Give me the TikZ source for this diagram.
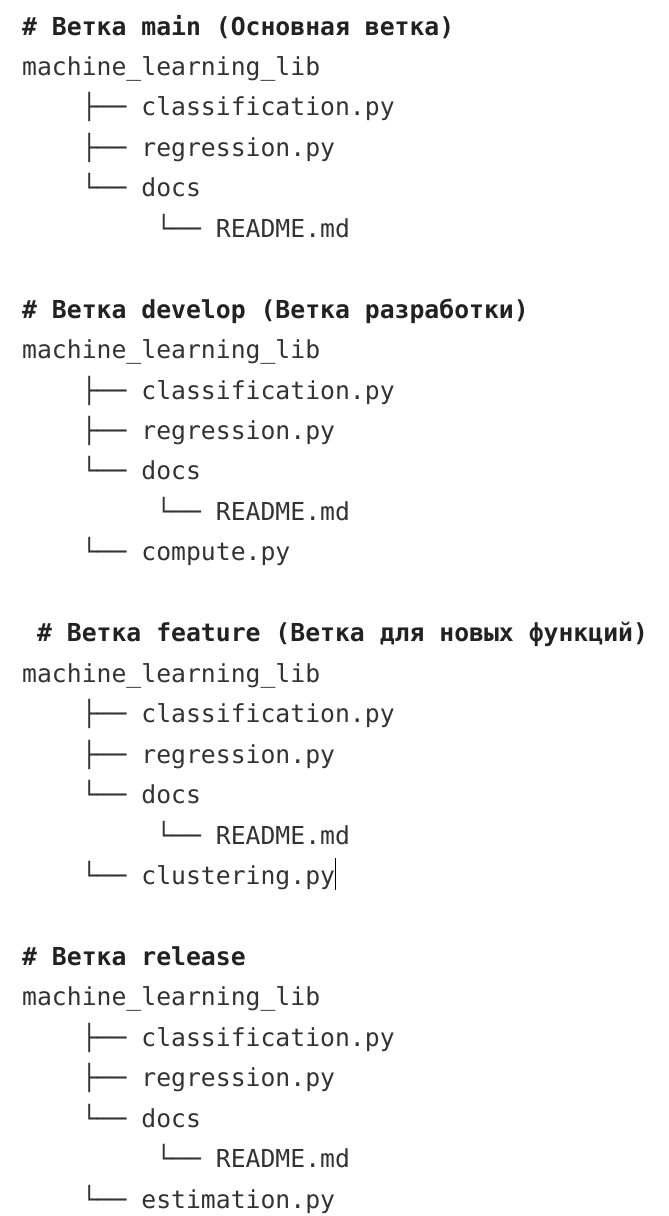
\documentclass[tikz,border=0pt]{standalone}
\usepackage{fontspec}
\setmonofont{DejaVu Sans Mono}
\definecolor{txt}{HTML}{333333}
\definecolor{hdc}{HTML}{222222}
\tikzset{
  ln/.style={anchor=base west, inner sep=0pt, text=txt,
    font=\ttfamily\fontsize{24.75}{30}\selectfont},
  hd/.style={anchor=base west, inner sep=0pt, text=hdc,
    font=\ttfamily\bfseries\fontsize{24.75}{30}\selectfont},
  cursor/.style={draw=black, line width=1.3pt}
}
\begin{document}
\begin{tikzpicture}[x=1pt,y=-1pt]
\useasboundingbox (0,0) rectangle (669,1216);
% column positions: c0=22, c1=36.9, c4=81.6, c9=156.1
% baseline of line k: 35+40.45k
% ---- block 1
\node[hd] (h1) at (22,{35+40.45*0}) {\# Ветка main (Основная ветка)};
\node[ln] (r1) at (22,{35+40.45*1}) {machine\_learning\_lib};
\node[ln] (a1) at (81.6,{35+40.45*2}) {├── classification.py};
\node[ln] (b1) at (81.6,{35+40.45*3}) {├── regression.py};
\node[ln] (d1) at (81.6,{35+40.45*4}) {└── docs};
\node[ln] (e1) at (156.1,{35+40.45*5}) {└── README.md};
% ---- block 2
\node[hd] (h2) at (22,{35+40.45*7}) {\# Ветка develop (Ветка разработки)};
\node[ln] (r2) at (22,{35+40.45*8}) {machine\_learning\_lib};
\node[ln] (a2) at (81.6,{35+40.45*9}) {├── classification.py};
\node[ln] (b2) at (81.6,{35+40.45*10}) {├── regression.py};
\node[ln] (d2) at (81.6,{35+40.45*11}) {└── docs};
\node[ln] (e2) at (156.1,{35+40.45*12}) {└── README.md};
\node[ln] (f2) at (81.6,{35+40.45*13}) {└── compute.py};
% ---- block 3
\node[hd] (h3) at (36.9,{35+40.45*15}) {\# Ветка feature (Ветка для новых функций)};
\node[ln] (r3) at (22,{35+40.45*16}) {machine\_learning\_lib};
\node[ln] (a3) at (81.6,{35+40.45*17}) {├── classification.py};
\node[ln] (b3) at (81.6,{35+40.45*18}) {├── regression.py};
\node[ln] (d3) at (81.6,{35+40.45*19}) {└── docs};
\node[ln] (e3) at (156.1,{35+40.45*20}) {└── README.md};
\node[ln] (f3) at (81.6,{35+40.45*21}) {└── clustering.py};
\draw[cursor] ([yshift=26pt]f3.base east) -- ([yshift=-6pt]f3.base east);
% ---- block 4
\node[hd] (h4) at (22,{35+40.45*23}) {\# Ветка release};
\node[ln] (r4) at (22,{35+40.45*24}) {machine\_learning\_lib};
\node[ln] (a4) at (81.6,{35+40.45*25}) {├── classification.py};
\node[ln] (b4) at (81.6,{35+40.45*26}) {├── regression.py};
\node[ln] (d4) at (81.6,{35+40.45*27}) {└── docs};
\node[ln] (e4) at (156.1,{35+40.45*28}) {└── README.md};
\node[ln] (f4) at (81.6,{35+40.45*29}) {└── estimation.py};
\end{tikzpicture}
\end{document}
